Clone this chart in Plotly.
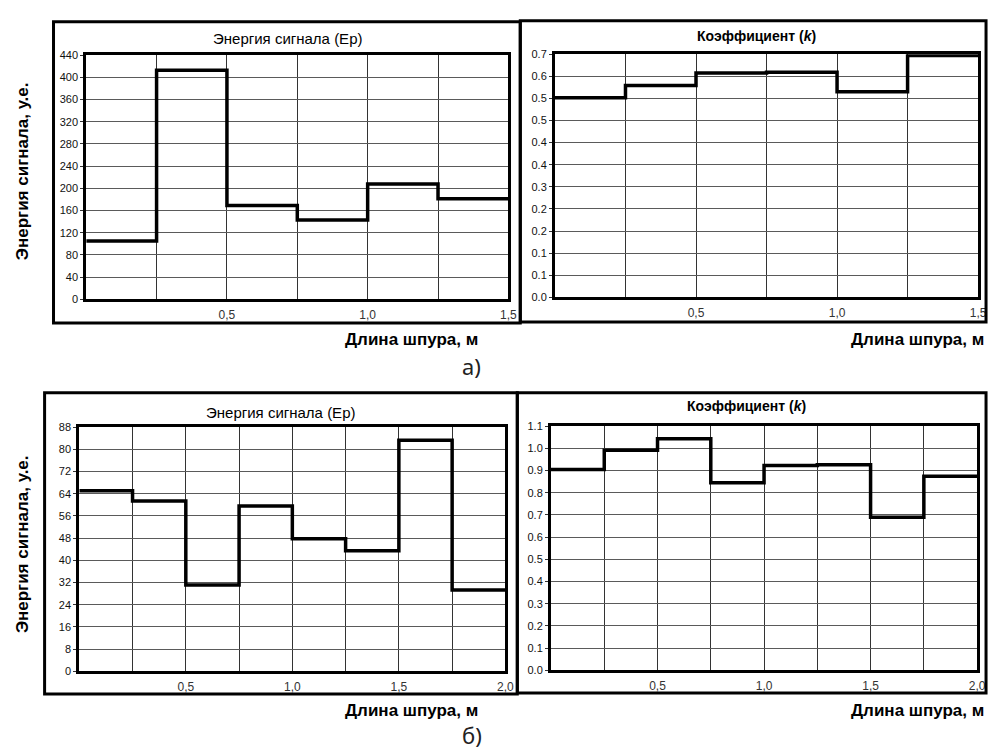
import numpy as np
import plotly.graph_objects as go

# ---------------- data ----------------
bin_width = 0.25  # м
energy_a = [105, 413, 169, 143, 208, 181]
k_a = [0.575, 0.610, 0.646, 0.648, 0.592, 0.696]
energy_b = [65.1, 61.4, 31.1, 59.6, 47.8, 43.5, 83.3, 29.3]
k_b = [0.905, 0.992, 1.044, 0.845, 0.923, 0.926, 0.690, 0.874]

energy_a_ticks = [0, 40, 80, 120, 160, 200, 240, 280, 320, 360, 400, 440]
k_a_ticktext = ["0.0", "0.1", "0.1", "0.2", "0.2", "0.3", "0.4", "0.4", "0.5", "0.5", "0.6", "0.7"]
k_a_max = 0.7
energy_b_ticks = [0, 8, 16, 24, 32, 40, 48, 56, 64, 72, 80, 88]
k_b_ticktext = ["0.0", "0.1", "0.2", "0.3", "0.4", "0.5", "0.6", "0.7", "0.8", "0.9", "1.0", "1.1"]
k_b_max = 1.1

x_labels_a = ["0,5", "1,0", "1,5"]
x_labels_b = ["0,5", "1,0", "1,5", "2,0"]

title_energy = "Энергия сигнала (Ер)"
title_k = "<b>Коэффициент (<i>k</i>)</b>"
x_title = "<b>Длина шпура, м</b>"
y_title = "<b>Энергия сигнала, у.е.</b>"
panel_labels = ["а)", "б)"]

# ---------------- layout helpers ----------------
W, H = 999, 756
def px(x):
    return x / W
def py(y):
    return 1 - y / H

fig = go.Figure()

areas = [
    (87, 513, 50, 298),
    (560, 987, 49, 296),
    (80, 510, 428, 676),
    (556, 986, 427, 675),
]
series = [energy_a, k_a, energy_b, k_b]

y_defs = [
    (energy_a_ticks, [str(v) for v in energy_a_ticks], energy_a_ticks[-1]),
    (list(np.linspace(0, k_a_max, len(k_a_ticktext))), k_a_ticktext, k_a_max),
    (energy_b_ticks, [str(v) for v in energy_b_ticks], energy_b_ticks[-1]),
    (list(np.linspace(0, k_b_max, len(k_b_ticktext))), k_b_ticktext, k_b_max),
]
x_label_sets = [x_labels_a, x_labels_a, x_labels_b, x_labels_b]

layout = dict(
    width=W, height=H, margin=dict(l=0, r=0, t=0, b=0),
    paper_bgcolor="white", plot_bgcolor="white", showlegend=False,
    font=dict(family="Liberation Sans, Arial, sans-serif", color="black"),
)

for i, (vals, area) in enumerate(zip(series, areas)):
    n = len(vals)
    edges = [j * bin_width for j in range(n + 1)]
    xmax = edges[-1]
    xa = "x" if i == 0 else f"x{i+1}"
    ya = "y" if i == 0 else f"y{i+1}"
    fig.add_trace(go.Scatter(
        x=edges, y=list(vals) + [vals[-1]], mode="lines",
        line=dict(color="black", width=3.5, shape="hv"),
        xaxis=xa, yaxis=ya, hoverinfo="skip",
    ))
    x0, x1, yt, yb = area
    labs = x_label_sets[i]
    xtext = []
    for j, e in enumerate(edges):
        if j > 0 and j % 2 == 0:
            xtext.append(labs[j // 2 - 1])
        else:
            xtext.append("")
    tv, tt, ymax = y_defs[i]
    xkey = "xaxis" if i == 0 else f"xaxis{i+1}"
    ykey = "yaxis" if i == 0 else f"yaxis{i+1}"
    layout[xkey] = dict(
        domain=[px(x0), px(x1)], anchor=ya, range=[0, xmax],
        tickvals=edges, ticktext=xtext, showgrid=True,
        gridcolor="#333333", gridwidth=1,
        showline=True, linecolor="black", linewidth=3, mirror=True,
        ticks="", ticklabelstandoff=2,
        tickfont=dict(size=12, color="#333", family="Liberation Sans, Arial"),
        zeroline=False,
    )
    layout[ykey] = dict(
        domain=[py(yb), py(yt)], anchor=xa, range=[0, ymax],
        tickvals=tv, ticktext=tt, showgrid=True,
        gridcolor="#5a5a5a", gridwidth=1,
        showline=True, linecolor="black", linewidth=3, mirror=True,
        ticks="outside", ticklen=3, tickwidth=1, tickcolor="#333",
        tickfont=dict(size=11, color="#111", family="Liberation Sans, Arial"),
        zeroline=False,
    )

fig.update_layout(**layout)

boxes = [(54, 525, 16, 322), (525, 995, 15, 321), (45, 522, 393, 699), (522, 995, 393, 698)]
for (bx0, bx1, by0, by1) in boxes:
    fig.add_shape(type="rect", xref="paper", yref="paper",
                  x0=px(bx0), x1=px(bx1), y0=py(by1), y1=py(by0),
                  line=dict(color="black", width=3), fillcolor="rgba(0,0,0,0)", layer="above")

titles = [(title_energy, 290, 33, 15), (title_k, 763, 30, 14), (title_energy, 283, 413, 15), (title_k, 753, 406, 14)]
for txt, tx, ty, fs in titles:
    fig.add_annotation(text=txt, x=px(tx), y=py(ty), xref="paper", yref="paper",
                       showarrow=False, font=dict(size=fs, color="black"),
                       xanchor="center", yanchor="middle")

for tx, ty in [(484, 339), (995, 339), (484, 716), (995, 716)]:
    fig.add_annotation(text=x_title, x=px(tx), y=py(ty), xref="paper", yref="paper",
                       showarrow=False, font=dict(size=17, color="black"),
                       xanchor="right", yanchor="middle")

for ty in [168, 547]:
    fig.add_annotation(text=y_title, x=px(23), y=py(ty), xref="paper", yref="paper",
                       showarrow=False, textangle=-90, font=dict(size=17, color="black"),
                       xanchor="center", yanchor="middle")

for lab, ty in zip(panel_labels, [366, 741]):
    fig.add_annotation(text=lab, x=px(476), y=py(ty), xref="paper", yref="paper",
                       showarrow=False, font=dict(size=22, color="#222", family="Noto Sans"),
                       xanchor="center", yanchor="middle")

fig.write_html("out.html")
